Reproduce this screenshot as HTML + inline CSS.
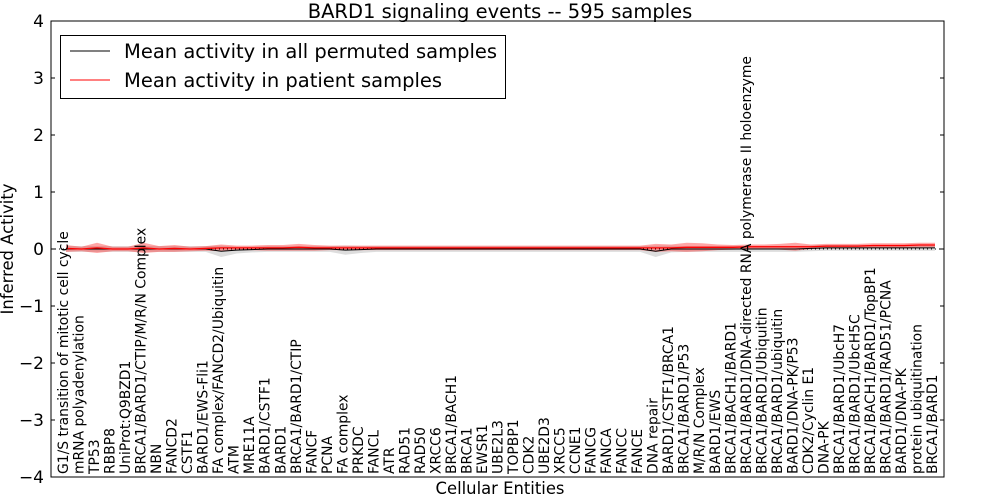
<!DOCTYPE html>
<html><head><meta charset="utf-8"><style>
body{margin:0;background:#fff;}
svg{display:block;font-family:"DejaVu Sans","Liberation Sans",sans-serif;}
</style></head><body>
<svg id="chart" width="1000" height="500"></svg>
<script>
const categories=["G1/S transition of mitotic cell cycle","mRNA polyadenylation","TP53","RBBP8","UniProt:Q9BZD1","BRCA1/BARD1/CTIP/M/R/N Complex","NBN","FANCD2","CSTF1","BARD1/EWS-Fli1","FA complex/FANCD2/Ubiquitin","ATM","MRE11A","BARD1/CSTF1","BARD1","BRCA1/BARD1/CTIP","FANCF","PCNA","FA complex","PRKDC","FANCL","ATR","RAD51","RAD50","XRCC6","BRCA1/BACH1","BRCA1","EWSR1","UBE2L3","TOPBP1","CDK2","UBE2D3","XRCC5","CCNE1","FANCG","FANCA","FANCC","FANCE","DNA repair","BARD1/CSTF1/BRCA1","BRCA1/BARD1/P53","M/R/N Complex","BARD1/EWS","BRCA1/BACH1/BARD1","BRCA1/BARD1/DNA-directed RNA polymerase II holoenzyme","BRCA1/BARD1/Ubiquitin","BRCA1/BARD1/ubiquitin","BARD1/DNA-PK/P53","CDK2/Cyclin E1","DNA-PK","BRCA1/BARD1/UbcH7","BRCA1/BARD1/UbcH5C","BRCA1/BACH1/BARD1/TopBP1","BRCA1/BARD1/RAD51/PCNA","BARD1/DNA-PK","protein ubiquitination","BRCA1/BARD1"];
const permMean=[0,0,0,0,0,0,0,0,0,0,-0.04,-0.02,-0.01,0,0,0,0,0,-0.02,-0.01,0,0,0,0,0,0,0,0,0,0,0,0,0,0,0,0,0,0,-0.04,0,0,0,0,0,0,0,0,0,0.01,0.02,0.02,0.02,0.02,0.02,0.02,0.02,0.02];
const permSpread=[0.05,0.05,0.05,0.05,0.05,0.05,0.05,0.05,0.05,0.05,0.1,0.06,0.05,0.05,0.05,0.05,0.05,0.05,0.08,0.06,0.05,0.05,0.05,0.05,0.05,0.05,0.05,0.05,0.05,0.05,0.05,0.05,0.05,0.05,0.05,0.05,0.05,0.05,0.1,0.06,0.05,0.05,0.05,0.05,0.05,0.05,0.05,0.05,0.05,0.05,0.05,0.05,0.05,0.05,0.05,0.05,0.05];
const patMean=[0.01,0,0.02,0,0,0.02,0,0.01,0,0.01,0.02,0.02,0.02,0.02,0.02,0.03,0.02,0.02,0.02,0.02,0.02,0.02,0.02,0.02,0.02,0.02,0.02,0.02,0.02,0.02,0.02,0.02,0.02,0.02,0.02,0.02,0.02,0.02,0.02,0.02,0.03,0.03,0.03,0.03,0.04,0.04,0.04,0.04,0.04,0.05,0.05,0.05,0.06,0.06,0.06,0.07,0.07];
const patSpread=[0.06,0.04,0.09,0.04,0.04,0.09,0.05,0.06,0.04,0.04,0.06,0.04,0.04,0.05,0.05,0.06,0.05,0.04,0.04,0.04,0.04,0.04,0.04,0.04,0.04,0.04,0.04,0.04,0.04,0.04,0.04,0.04,0.04,0.04,0.04,0.04,0.04,0.04,0.07,0.06,0.08,0.07,0.05,0.04,0.04,0.04,0.05,0.07,0.04,0.04,0.04,0.04,0.04,0.04,0.04,0.04,0.04];
const yTicks=[4,3,2,1,0,-1,-2,-3,-4];
const yTickLabels=["4","3","2","1","0","\u22121","\u22122","\u22123","\u22124"];

const NS="http://www.w3.org/2000/svg";
const svg=document.getElementById('chart');
const L=51,R=944,T=21,B=477;
const xS=i=>66+i*(935-66)/(categories.length-1);
const yS=v=>T+(4-v)*(B-T)/8;
function mk(tag,attrs,parent){const e=document.createElementNS(NS,tag);for(const k in attrs)e.setAttribute(k,attrs[k]);(parent||svg).appendChild(e);return e;}

function band(mean,spread,fill,op,name){
  let d="M";
  mean.forEach((m,i)=>{d+=xS(i)+","+yS(m+spread[i])+" L";});
  for(let i=mean.length-1;i>=0;i--){d+=xS(i)+","+yS(mean[i]-spread[i])+(i>0?" L":" Z");}
  const p=mk('path',{d:d,fill:fill,'fill-opacity':op,stroke:'none'});
  
  
}
function line(vals,stroke,w,name){
  const p=mk('polyline',{points:vals.map((v,i)=>xS(i)+","+yS(v)).join(" "),fill:'none',stroke:stroke,'stroke-width':w});
  
  
}
band(permMean,permSpread,'#bbbbbb',0.5,'permuted-band');
band(patMean,patSpread,'#ff0000',0.35,'patient-band');
const z=mk('line',{x1:L,x2:R,y1:yS(0),y2:yS(0),stroke:'#000','stroke-width':1,'stroke-dasharray':'1,3'});


line(permMean,'#000',1,'permuted-mean-line');
line(patMean,'#ff0000',1.3,'patient-mean-line');

const fr=mk('rect',{x:L,y:T,width:R-L,height:B-T,fill:'none',stroke:'#000','stroke-width':1});



yTicks.forEach((v,i)=>{
  const y=yS(v);
  const t1=mk('line',{x1:L,x2:L+4,y1:y,y2:y,stroke:'#000'});
  
  
  const t2=mk('line',{x1:R-4,x2:R,y1:y,y2:y,stroke:'#000'});
  
  
  const tx=mk('text',{x:L-7,y:y+6,'text-anchor':'end','font-size':17});
  tx.textContent=yTickLabels[i];
  
  
});
categories.forEach((c,i)=>{
  const x=xS(i)+2;
  const tx=mk('text',{x:0,y:0,transform:`translate(${x},${B-3}) rotate(-90)`,'font-size':13.9});
  tx.textContent=c;
  
  
});
const title=mk('text',{x:500,y:18,'text-anchor':'middle','font-size':19.5});
title.textContent="BARD1 signaling events -- 595 samples";


const xl=mk('text',{x:500,y:494,'text-anchor':'middle','font-size':16.4});
xl.textContent="Cellular Entities";


const yl=mk('text',{x:0,y:0,transform:'translate(13,249) rotate(-90)','text-anchor':'middle','font-size':16.4});
yl.textContent="Inferred Activity";



const lg=mk('g',{});


mk('rect',{x:60.5,y:35.5,width:445,height:63,fill:'#fff',stroke:'#000'},lg);
const e1=mk('line',{x1:70,x2:110,y1:51,y2:51,stroke:'#000','stroke-width':1},lg);


const l1=mk('text',{x:124,y:58,'font-size':19.5},lg);
l1.textContent="Mean activity in all permuted samples";


const e2=mk('line',{x1:70,x2:110,y1:80,y2:80,stroke:'#ff0000','stroke-width':1},lg);


const l2=mk('text',{x:124,y:87,'font-size':19.5},lg);
l2.textContent="Mean activity in patient samples";


</script>
</body></html>
